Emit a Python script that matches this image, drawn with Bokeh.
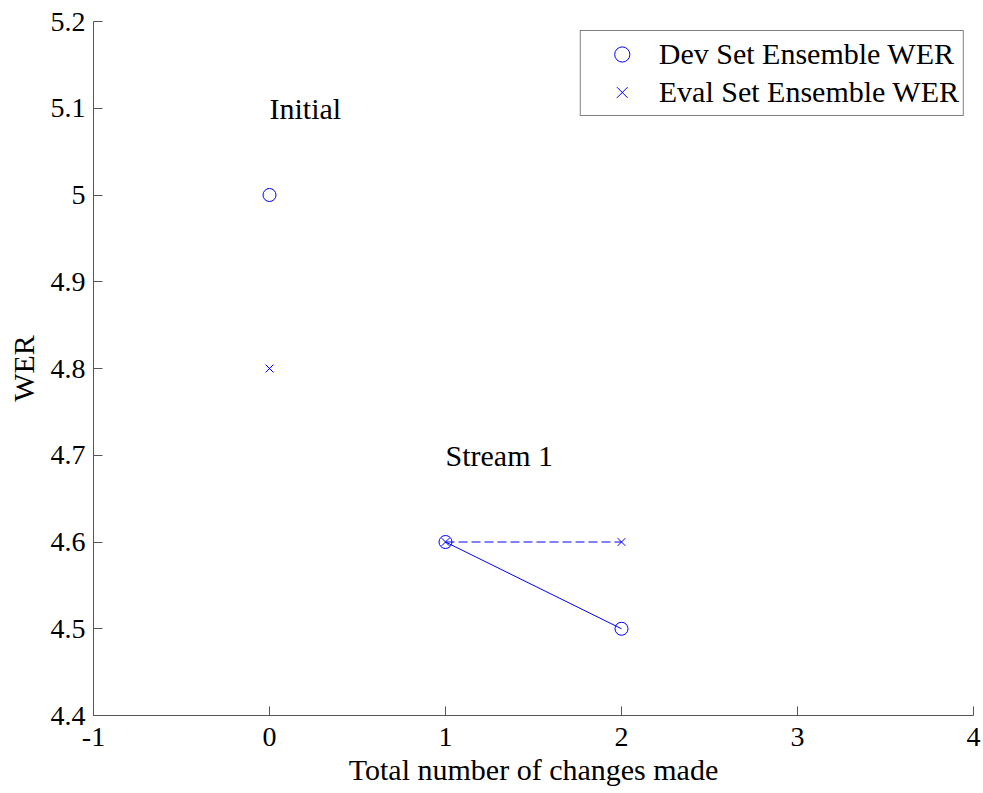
from bokeh.plotting import figure
from bokeh.models import Label, Legend, LegendItem, FixedTicker, Range1d
from bokeh.embed import file_html
from bokeh.resources import INLINE

# data
dev_x = [0, 1, 2]
dev_y = [5.0, 4.6, 4.5]
eval_x = [0, 1, 2]
eval_y = [4.8, 4.6, 4.6]
stream_x = [1, 2]
stream_dev = [4.6, 4.5]
stream_eval = [4.6, 4.6]
x_ticks = [-1, 0, 1, 2, 3, 4]
x_tick_labels = {-1: "-1", 0: "0", 1: "1", 2: "2", 3: "3", 4: "4"}
y_ticks = [4.4, 4.5, 4.6, 4.7, 4.8, 4.9, 5.0, 5.1, 5.2]
y_tick_labels = {4.4: "4.4", 4.5: "4.5", 4.6: "4.6", 4.7: "4.7", 4.8: "4.8",
                 4.9: "4.9", 5.0: "5", 5.1: "5.1", 5.2: "5.2"}
annotations = [(0, 5.1, "Initial"), (1, 4.7, "Stream 1")]

FONT = "Liberation Serif"
TICK_FS = "28px"
FS = "30px"
BLUE = "#0000ff"

p = figure(width=981, height=790, output_backend="svg", toolbar_location=None,
           x_range=Range1d(-1, 4), y_range=Range1d(4.4, 5.2),
           min_border_left=93, min_border_right=8, min_border_top=21,
           min_border_bottom=75)
p.outline_line_color = None
p.grid.visible = False

for ax in (p.xaxis[0], p.yaxis[0]):
    ax.axis_line_color = "#555555"
    ax.major_tick_line_color = "#555555"
    ax.major_tick_in = 9
    ax.major_tick_out = 0
    ax.minor_tick_line_color = None
    ax.major_label_text_font = FONT
    ax.major_label_text_font_size = TICK_FS
    ax.major_label_text_color = "black"
    ax.axis_label_text_font = FONT
    ax.axis_label_text_font_size = FS
    ax.axis_label_text_font_style = "normal"
    ax.axis_label_text_color = "black"

p.xaxis.ticker = FixedTicker(ticks=x_ticks)
p.xaxis.major_label_overrides = x_tick_labels
p.yaxis.ticker = FixedTicker(ticks=y_ticks)
p.yaxis.major_label_overrides = y_tick_labels
p.xaxis.axis_label = "Total number of changes made"
p.yaxis.axis_label = "WER"
p.xaxis.major_label_standoff = 12
p.yaxis.major_label_standoff = 8
p.xaxis.axis_label_standoff = 4
p.yaxis.axis_label_standoff = 8

p.line(stream_x, stream_dev, line_color=BLUE, line_width=1)
p.line(stream_x, stream_eval, line_color=BLUE, line_width=1, line_dash="9 4")
r_dev = p.scatter(dev_x, dev_y, marker="circle", size=13, fill_color=None,
                  line_color=BLUE, line_width=1)
r_eval = p.scatter(eval_x, eval_y, marker="x", size=11, line_color=BLUE,
                   line_width=1)

for ax_, ay_, t in annotations:
    p.add_layout(Label(x=ax_, y=ay_, text=t, text_font=FONT, text_font_size=FS,
                       text_baseline="middle", text_color="black"))

legend = Legend(items=[LegendItem(label="Dev Set Ensemble WER", renderers=[r_dev]),
                       LegendItem(label="Eval Set Ensemble WER", renderers=[r_eval])],
                location="top_right", margin=9, padding=4, spacing=0,
                glyph_width=74, glyph_height=38, label_height=38,
                label_width=300, label_standoff=0,
                label_text_font=FONT, label_text_font_size=FS,
                label_text_color="black",
                border_line_color="black", border_line_width=1,
                background_fill_alpha=1.0)
p.add_layout(legend)

open("out.html", "w").write(file_html(p, INLINE))
